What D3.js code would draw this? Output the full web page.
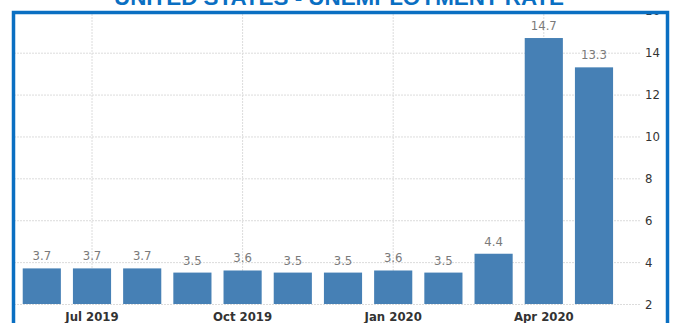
<!DOCTYPE html>
<html>
<head>
<meta charset="utf-8">
<script src="https://cdn.jsdelivr.net/npm/d3@7"></script>
<style>
  html, body { margin: 0; padding: 0; background: #fff; }
  svg { display: block; }
</style>
</head>
<body>
<svg id="chart" width="674" height="323"></svg>
<script>
// Monthly US unemployment rate, June 2019 – May 2020 (percent)
const months = ["Jun 2019", "Jul 2019", "Aug 2019", "Sep 2019", "Oct 2019", "Nov 2019",
                "Dec 2019", "Jan 2020", "Feb 2020", "Mar 2020", "Apr 2020", "May 2020"];
const rates = [3.7, 3.7, 3.7, 3.5, 3.6, 3.5, 3.5, 3.6, 3.5, 4.4, 14.7, 13.3];
const xTickLabels = ["Jul 2019", "Oct 2019", "Jan 2020", "Apr 2020"];
const yTickValues = [2, 4, 6, 8, 10, 12, 14, 16];
const title = "UNITED STATES - UNEMPLOYMENT RATE";

const svg = d3.select("#chart");
const W = 674, H = 323;

// Frame geometry
const frame = { x: 13.5, y: 12.5, w: 654, h: 330 };
const plot = { left: 15, right: 640, top: 12, bottom: 304 };

const x = d3.scaleBand()
  .domain(months)
  .range([16.7, 619.1])
  .paddingInner(0.24)
  .paddingOuter(0.12);

const y = d3.scaleLinear()
  .domain([2, 16])
  .range([plot.bottom, 10.8]);

const font = "'Liberation Sans Narrow', 'DejaVu Sans Condensed', 'Liberation Sans', sans-serif";

// Clip everything inside the frame
svg.append("defs").append("clipPath").attr("id", "inside")
  .append("rect")
  .attr("x", frame.x).attr("y", frame.y)
  .attr("width", frame.w).attr("height", frame.h);

const g = svg.append("g").attr("clip-path", "url(#inside)");

// Horizontal grid + right-hand value axis
const yAxis = d3.axisRight(y)
  .tickValues(yTickValues)
  .tickSize(-(plot.right - plot.left))
  .tickPadding(5)
  .tickFormat(d3.format("d"));

const yg = g.append("g")
  .attr("transform", `translate(${plot.right},0)`)
  .call(yAxis);
yg.select(".domain").remove();
yg.selectAll(".tick line")
  .attr("stroke", "#dcdcdc")
  .attr("stroke-dasharray", "2,1");
yg.selectAll(".tick text")
  .attr("fill", "#333")
  .style("font-family", font)
  .style("font-size", "13px");

// Vertical grid + month labels
const xAxis = d3.axisBottom(x)
  .tickValues(xTickLabels)
  .tickSize(-(plot.bottom - plot.top))
  .tickPadding(8);

const xg = g.append("g")
  .attr("transform", `translate(0,${plot.bottom})`)
  .call(xAxis);
xg.select(".domain").remove();
xg.selectAll(".tick line")
  .attr("stroke", "#dcdcdc")
  .attr("stroke-dasharray", "2,1");
xg.selectAll(".tick text")
  .attr("fill", "#333")
  .style("font-family", font)
  .style("font-size", "13px")
  .style("font-weight", "bold");

// Bars
g.append("g").selectAll("rect")
  .data(months)
  .join("rect")
  .attr("x", d => x(d))
  .attr("width", x.bandwidth())
  .attr("y", (d, i) => y(rates[i]))
  .attr("height", (d, i) => y(2) - y(rates[i]))
  .attr("fill", "#4680b5");

// Value labels above bars
g.append("g").selectAll("text")
  .data(months)
  .join("text")
  .attr("x", d => x(d) + x.bandwidth() / 2)
  .attr("y", (d, i) => y(rates[i]) - 8)
  .attr("text-anchor", "middle")
  .attr("fill", "#7a7a7a")
  .style("font-family", font)
  .style("font-size", "13px")
  .text((d, i) => d3.format(".1f")(rates[i]));

// Frame
svg.append("rect")
  .attr("x", frame.x).attr("y", frame.y)
  .attr("width", frame.w).attr("height", frame.h)
  .attr("fill", "none")
  .attr("stroke", "#0a6fc2")
  .attr("stroke-width", 3.5);

// Title (sits above the frame)
svg.append("text")
  .attr("x", 339)
  .attr("y", 5)
  .attr("text-anchor", "middle")
  .attr("fill", "#0a6fc2")
  .style("font-family", "'Liberation Sans', Arial, sans-serif")
  .style("font-size", "22px")
  .style("font-weight", "bold")
  .attr("textLength", 450)
  .attr("lengthAdjust", "spacingAndGlyphs")
  .text(title);
</script>
</body>
</html>
